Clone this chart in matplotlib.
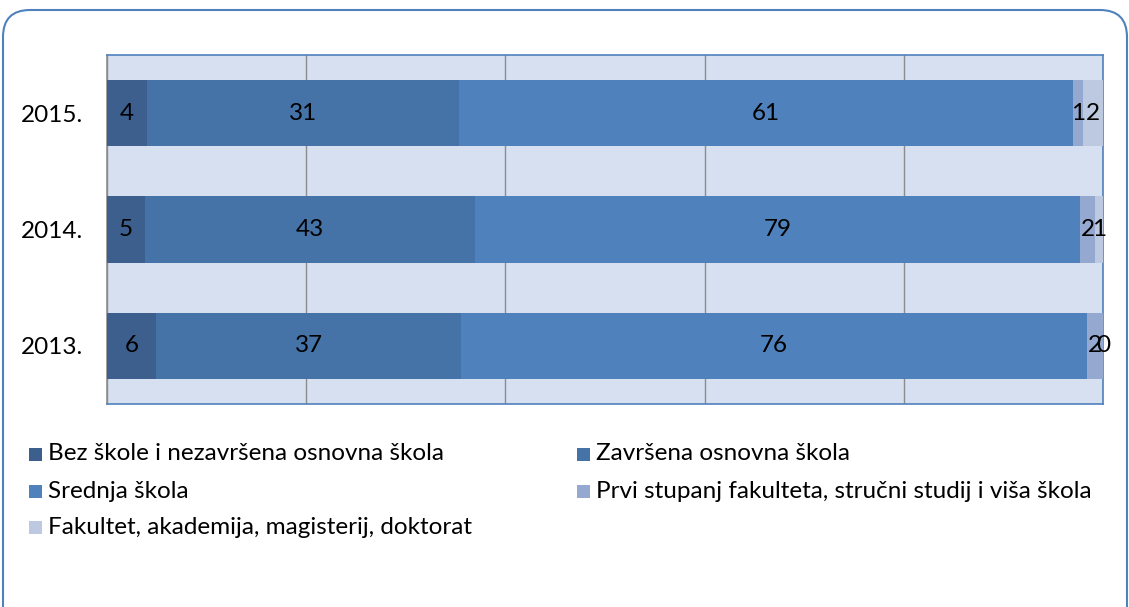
import matplotlib
matplotlib.use("Agg")
import matplotlib.pyplot as plt
from matplotlib.patches import FancyBboxPatch, Rectangle
import numpy as np

years = ["2013.", "2014.", "2015."]
bez = [6, 5, 4]
zavrsena = [37, 43, 31]
srednja = [76, 79, 61]
prvi = [2, 2, 1]
fakultet = [0, 1, 2]
series_names = ["Bez škole i nezavršena osnovna škola", "Završena osnovna škola",
                "Srednja škola", "Prvi stupanj fakulteta, stručni studij i viša škola",
                "Fakultet, akademija, magisterij, doktorat"]
colors = ["#3C5F8E", "#4572A7", "#4F81BD", "#94A8D0", "#BDC8E1"]

plt.rcParams['font.family'] = ['Lato', 'DejaVu Sans']
FS = 17.5

fig = plt.figure(figsize=(11.29, 6.07), dpi=100)
W, H = 1129, 607

# outer rounded frame
frame = FancyBboxPatch((3 / W, -40 / H), 1124 / W, 637 / H,
                       boxstyle="round,pad=0,rounding_size=0.024",
                       transform=fig.transFigure, facecolor="none",
                       edgecolor="#4F81BD", linewidth=1.5, mutation_aspect=W / H)
fig.patches.append(frame)

ax = fig.add_axes([107 / W, 1 - 404 / H, 996 / W, 349 / H])
ax.set_facecolor("#D6E0F0")

data = np.array([bez, zavrsena, srednja, prvi, fakultet], dtype=float)
totals = data.sum(axis=0)
pct = data / totals * 100
y = np.arange(len(years))
left = np.zeros(len(years))
for i in range(len(series_names)):
    ax.barh(y, pct[i], left=left, height=0.57, color=colors[i],
            label=series_names[i], zorder=3, linewidth=0)
    for j in range(len(years)):
        ax.text(left[j] + pct[i][j] / 2, y[j], f"{int(data[i][j])}",
                ha="center", va="center", fontsize=FS, color="black",
                zorder=5, clip_on=False)
    left += pct[i]

ax.set_xlim(0, 100)
ax.set_ylim(-0.5, 2.5)
ax.set_xticks(np.arange(0, 101, 20))
ax.xaxis.grid(True, color="#8C8C8C", linewidth=1, zorder=1)
ax.tick_params(axis="x", length=0, labelbottom=False)
ax.set_yticks(y)
ax.set_yticklabels(years, fontsize=FS)
ax.tick_params(axis="y", length=0, pad=17)
for s in ["top", "right", "bottom"]:
    ax.spines[s].set_color("#4F81BD")
    ax.spines[s].set_linewidth(1.2)
ax.spines["left"].set_color("#8C8C8C")
ax.spines["left"].set_linewidth(1.2)

# legend, manual layout in rows
positions = [(29, 454), (577, 454), (29, 491), (577, 491), (29, 527)]
for i, (px, py) in enumerate(positions):
    fig.patches.append(Rectangle((px / W, 1 - (py + 7) / H), 13 / W, 13 / H,
                                 transform=fig.transFigure, facecolor=colors[i],
                                 edgecolor="none"))
    fig.text((px + 19) / W, 1 - py / H, series_names[i], fontsize=FS,
             va="center", ha="left")

fig.savefig("out.png", dpi=100)
